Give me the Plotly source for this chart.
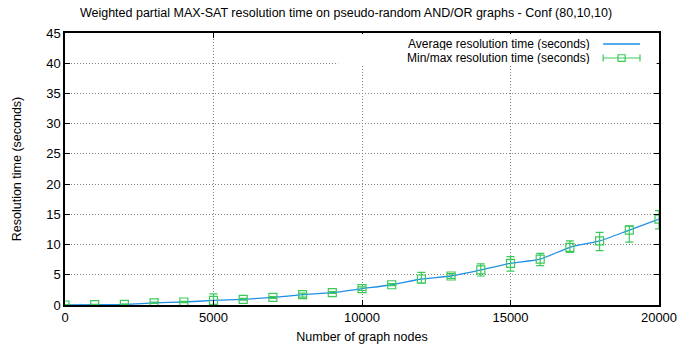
import plotly.graph_objects as go

nodes = [0, 1000, 2000, 3000, 4000, 5000, 6000, 7000, 8000, 9000, 10000,
         11000, 12000, 13000, 14000, 15000, 16000, 17000, 18000, 19000, 20000]
avg_time = [0.0, 0.05, 0.1, 0.35, 0.5, 0.75, 0.94, 1.25, 1.7, 2.04, 2.7,
            3.35, 4.3, 4.8, 5.8, 6.9, 7.6, 9.55, 10.6, 12.4, 14.2]
min_time = [0.0, 0.0, 0.05, 0.25, 0.4, 0.0, 0.8, 1.1, 1.3, 1.9, 2.4,
            3.2, 3.6, 4.4, 4.8, 5.6, 6.5, 8.7, 9.0, 10.4, 12.6]
max_time = [0.05, 0.1, 0.15, 0.5, 0.6, 1.85, 1.1, 1.4, 1.95, 2.2, 3.0,
            3.55, 5.4, 5.2, 6.8, 8.0, 8.55, 10.6, 12.0, 13.1, 15.6]

x_ticks = [0, 5000, 10000, 15000, 20000]
y_ticks = [0, 5, 10, 15, 20, 25, 30, 35, 40, 45]

title = "Weighted partial MAX-SAT resolution time on pseudo-random AND/OR graphs - Conf (80,10,10)"
label_avg = "Average resolution time (seconds)"
label_mm = "Min/max resolution time (seconds)"

BLUE = "#1f8fe6"
GREEN = "#3cc85a"
FONT = "Liberation Sans, Arial, sans-serif"

fig = go.Figure()
fig.add_trace(go.Scatter(
    x=nodes, y=avg_time, mode="lines", line=dict(color=BLUE, width=1.3, shape="spline", smoothing=0.6),
    showlegend=False, hoverinfo="skip"))
fig.add_trace(go.Scatter(
    x=nodes, y=avg_time, mode="markers",
    marker=dict(symbol="square-open", size=8, color=GREEN, line=dict(width=1.2, color=GREEN)),
    error_y=dict(type="data", symmetric=False,
                 array=[mx - a for mx, a in zip(max_time, avg_time)],
                 arrayminus=[a - mn for mn, a in zip(min_time, avg_time)],
                 color=GREEN, thickness=1.2, width=4),
    showlegend=False))

axis_common = dict(
    showline=True, linecolor="black", linewidth=1.5, mirror="ticks",
    ticks="inside", ticklen=5, tickcolor="black", tickwidth=1,
    showgrid=True, gridcolor="#808080", gridwidth=1, griddash="1px,2px",
    zeroline=False, tickfont=dict(family=FONT, size=13, color="black"),
    automargin=False,
)

fig.update_layout(
    width=692, height=348,
    margin=dict(l=65, r=33, t=33, b=43),
    paper_bgcolor="white", plot_bgcolor="white",
    font=dict(family=FONT, size=12, color="black"),
    title=dict(text=title, x=0.5, xanchor="center", y=0.965, yanchor="middle",
               font=dict(family=FONT, size=12.5, color="black")),
    xaxis=dict(range=[0, 20000], tickvals=x_ticks, ticktext=[str(v) for v in x_ticks],
               title=dict(text="Number of graph nodes", standoff=8,
                          font=dict(family=FONT, size=12.5)),
               **axis_common),
    yaxis=dict(range=[0, 45], tickvals=y_ticks, ticktext=[str(v) for v in y_ticks],
               title=dict(text="Resolution time (seconds)", standoff=22,
                          font=dict(family=FONT, size=12.5)),
               **axis_common),
)

# key (legend) drawn gnuplot style: text on the left, sample on the right
r1, r2 = 0.9596, 0.908
shapes = [
    dict(type="rect", xref="paper", yref="paper", x0=0.46, x1=0.996, y0=0.882, y1=0.996,
         fillcolor="white", line=dict(width=0), layer="above"),
    dict(type="line", xref="paper", yref="paper", x0=0.906, x1=0.968, y0=r1, y1=r1,
         line=dict(color=BLUE, width=1.3)),
    dict(type="line", xref="paper", yref="paper", x0=0.906, x1=0.968, y0=r2, y1=r2,
         line=dict(color=GREEN, width=1.2)),
    dict(type="line", xref="paper", yref="paper", x0=0.906, x1=0.906, y0=r2 - 0.013, y1=r2 + 0.013,
         line=dict(color=GREEN, width=1.2)),
    dict(type="line", xref="paper", yref="paper", x0=0.968, x1=0.968, y0=r2 - 0.013, y1=r2 + 0.013,
         line=dict(color=GREEN, width=1.2)),
    dict(type="rect", xref="paper", yref="paper", x0=0.931, x1=0.943, y0=r2 - 0.012, y1=r2 + 0.012,
         line=dict(color=GREEN, width=1.2), fillcolor="rgba(0,0,0,0)"),
]
fig.update_layout(shapes=shapes)
for yy, txt in [(r1, label_avg), (r2, label_mm)]:
    fig.add_annotation(x=0.885, y=yy, xref="paper", yref="paper", text=txt,
                       showarrow=False, xanchor="right", yanchor="middle",
                       height=12, borderpad=0, valign="middle",
                       font=dict(family=FONT, size=12, color="black"))

fig.write_html("out.html")
